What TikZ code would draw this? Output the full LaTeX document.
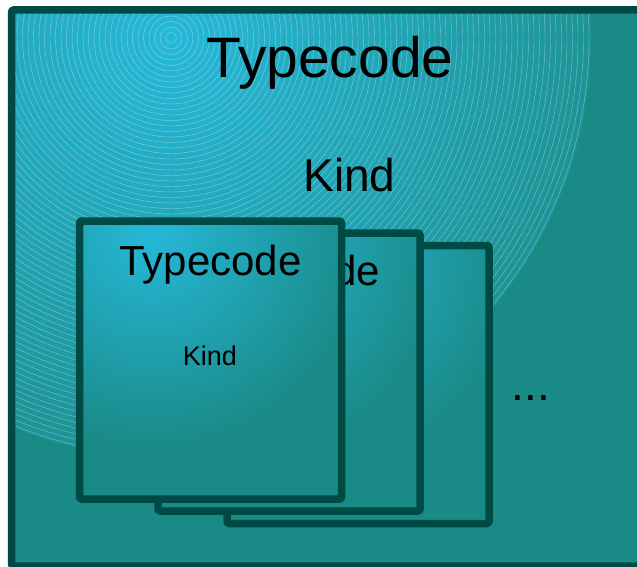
\documentclass[tikz,border=0pt]{standalone}
\usepackage{fontspec}
\setmainfont{Liberation Sans}
\usetikzlibrary{calc}
\definecolor{tealc}{RGB}{26,138,135}
\definecolor{cyanc}{RGB}{38,184,216}
\definecolor{edgec}{RGB}{29,148,150}
\definecolor{borderc}{RGB}{0,74,70}
\pgfdeclareradialshading{bigrad}{\pgfpoint{0bp}{0bp}}{color(0bp)=(cyanc); color(25bp)=(edgec); color(50bp)=(edgec)}
\pgfdeclareradialshading{smallrad}{\pgfpoint{0bp}{0bp}}{color(0bp)=(cyanc); color(25bp)=(tealc); color(50bp)=(tealc)}
\tikzset{
  boxline/.style={draw=borderc, line width=7.5pt, line join=round, rounded corners=1.5pt},
  bigtxt/.style={anchor=base, inner sep=0pt, text=black, font=\fontsize{57}{60}\selectfont},
  kindtxt/.style={anchor=base, inner sep=0pt, text=black, font=\fontsize{46}{50}\selectfont},
  midtxt/.style={anchor=base, inner sep=0pt, text=black, font=\fontsize{42}{46}\selectfont},
  smalltxt/.style={anchor=base, inner sep=0pt, text=black, font=\fontsize{27}{30}\selectfont},
}
\newcommand{\cardbox}[3]{%
  \coordinate (#3nw) at (#1,#2);
  \coordinate (#3se) at ($(#1,#2)+(262,278)$);
  \begin{scope}
    \clip (#3nw) rectangle (#3se);
    \fill[tealc] (#3nw) rectangle (#3se);
    \shade[shading=smallrad] ($(#3nw)+(72,12)$) circle (215);
  \end{scope}
  \draw[boxline] (#3nw) rectangle (#3se);
}
\begin{document}
\begin{tikzpicture}[x=1pt,y=-1pt]
\clip (0,0) rectangle (637,567);
\fill[white] (0,0) rectangle (637,567);
% outer panel
\coordinate (onw) at (11.5,10);
\coordinate (ose) at (700,566);
\coordinate (gc) at (171,38);
\begin{scope}
  \clip (onw) rectangle (ose);
  \fill[tealc] (onw) rectangle (ose);
  \shade[shading=bigrad] (gc) circle (420);
  \foreach \r in {5.5,11,...,420} {
    \draw[white, opacity=0.38, line width=0.45pt] (gc) circle (\r);
  }
\end{scope}
\draw[boxline] (onw) rectangle (ose);
\node[bigtxt] (title) at (330,78) {Typecode};
\node[kindtxt] (kind) at (349.5,191) {Kind};
% stacked cards
\cardbox{227}{245.5}{back}
\cardbox{158}{233}{mid}
\node[midtxt] (midtitle) at (289,285) {Typecode};
\node[smalltxt] (midkind) at (289,377) {Kind};
\cardbox{79.5}{221}{front}
\node[midtxt] (fronttitle) at (210.5,275) {Typecode};
\node[smalltxt] (frontkind) at (210,365) {Kind};
\node[kindtxt] (dots) at (531,400) {...};
\end{tikzpicture}
\end{document}
